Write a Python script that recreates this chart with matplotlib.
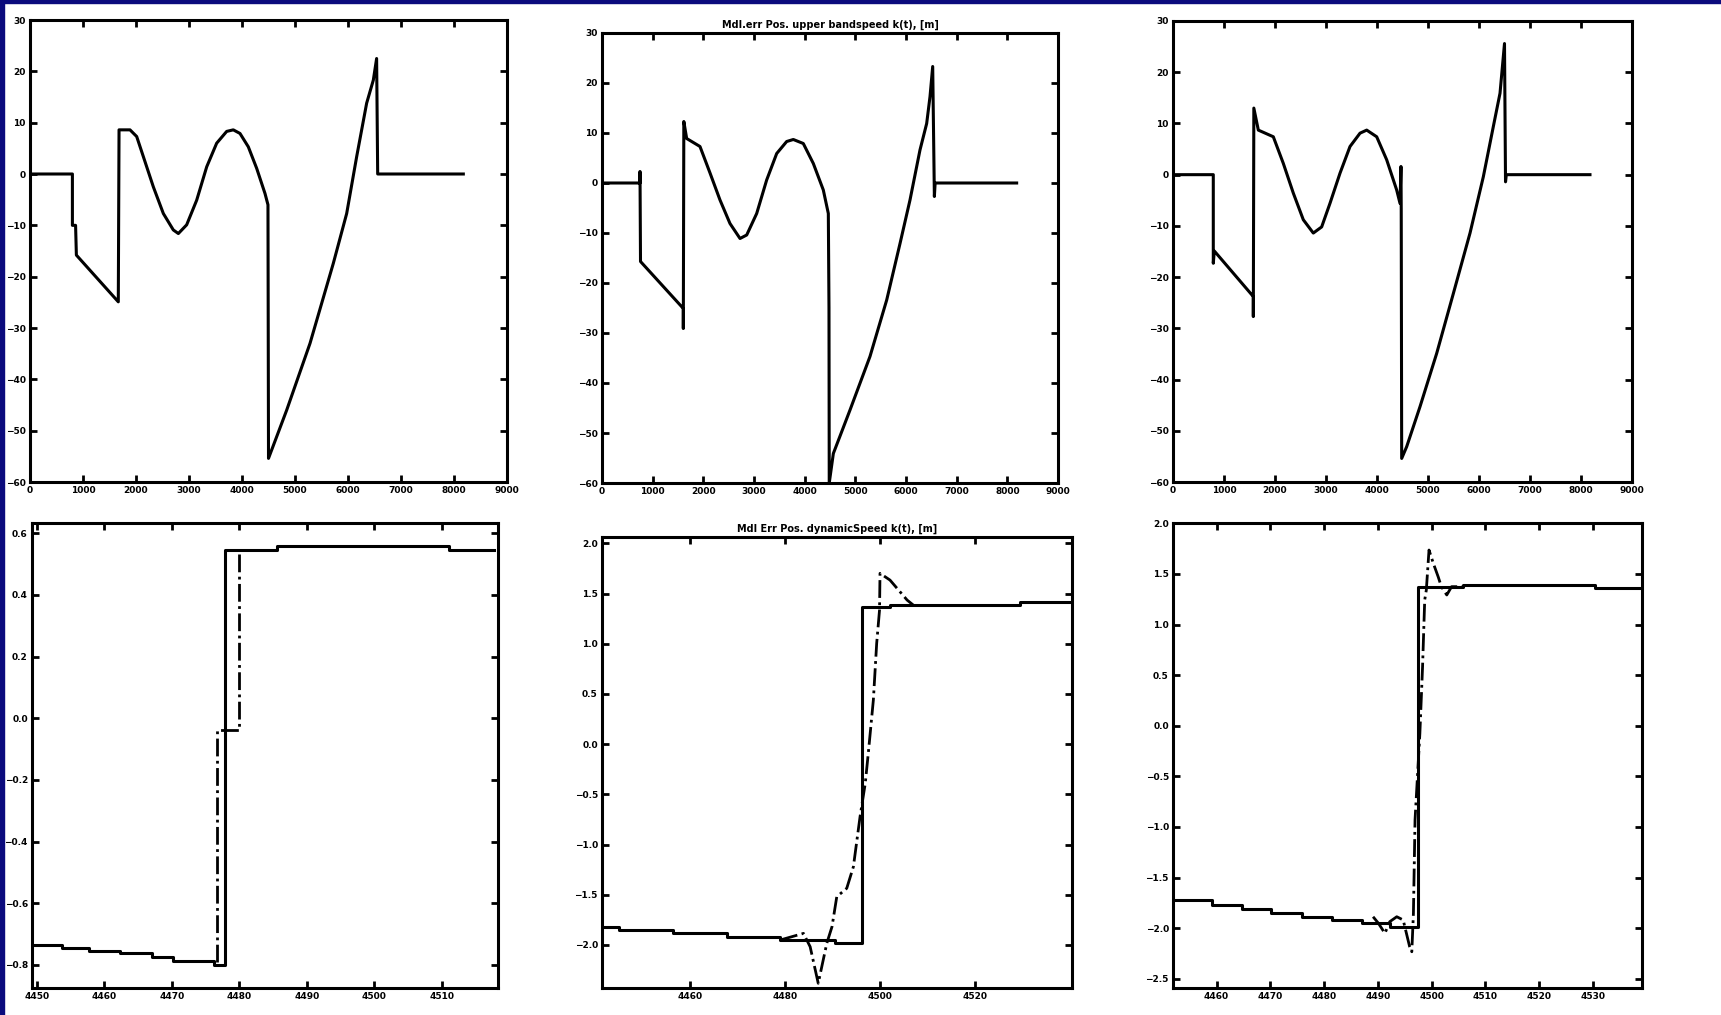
import matplotlib
matplotlib.use('Agg')
import matplotlib.pyplot as plt
from matplotlib.patches import Rectangle

# position error traces, upper row (x in samples)
tl_x = [0, 800, 800, 860, 875, 1666, 1680, 1887, 2013, 2138, 2327, 2516, 2704, 2799, 2956, 3145,
        3334, 3522, 3711, 3836, 3962, 4119, 4277, 4434, 4490, 4500, 4843, 5283, 5723, 5975, 6164,
        6352, 6478, 6540, 6560, 8176]
tl_y = [0, 0, -10, -10, -15.8, -24.9, 8.6, 8.6, 7.3, 3.4, -2.5, -7.7, -10.9, -11.6, -9.9, -5.1,
        1.4, 6.0, 8.3, 8.6, 7.9, 5.3, 1.1, -3.8, -6.0, -55.4, -46.0, -33.0, -17.4, -7.7, 3.4,
        13.8, 18.3, 22.5, 0, 0]

tm_x = [0, 750, 750, 760, 1605, 1605, 1615, 1671, 1934, 2132, 2329, 2526, 2724, 2856, 3053, 3250,
        3448, 3645, 3776, 3973, 4171, 4368, 4467, 4480, 4485, 4566, 4895, 5289, 5619, 5882, 6079,
        6276, 6408, 6474, 6527, 6560, 6575, 8184]
tm_y = [0, 0, 2.3, -15.7, -25.1, -29.1, 12.3, 8.9, 7.3, 2.0, -3.4, -8.1, -11.1, -10.4, -6.1, 0.6,
        5.9, 8.3, 8.7, 7.9, 3.9, -1.4, -6.1, -25, -60, -54.1, -45.4, -34.7, -23.4, -12.1, -3.4,
        6.6, 11.9, 17.3, 23.3, -2.7, 0, 0]

tr_x = [0, 790, 790, 810, 1575, 1575, 1585, 1673, 1967, 2163, 2359, 2555, 2751, 2915, 3078, 3275,
        3471, 3667, 3798, 3994, 4190, 4386, 4451, 4470, 4475, 4484, 4582, 4843, 5170, 5497, 5824,
        6085, 6281, 6412, 6500, 6520, 6535, 8176]
tr_y = [0, 0, -17.3, -14.9, -23.8, -27.7, 13.0, 8.7, 7.4, 2.2, -3.6, -8.8, -11.4, -10.2, -5.6, 0.3,
        5.5, 8.1, 8.7, 7.4, 2.9, -3.0, -5.6, 1.6, -6.7, -55.4, -53.1, -45.3, -34.9, -23.2, -11.4,
        -0.4, 9.4, 15.9, 25.6, -1.4, 0, 0]

# lower row: zoom around the switch, solid = stepped reference, dash-dot = response
bl_step_x = [4449.5, 4453.7, 4457.7, 4462.4, 4467.0, 4470.2, 4476.2, 4477.9, 4485.6, 4511.0, 4517.7]
bl_step_y = [-0.734, -0.745, -0.756, -0.763, -0.774, -0.788, -0.799, 0.546, 0.557, 0.544, 0.544]
bl_dd_x = [4476.7, 4476.7, 4479.9, 4479.9, 4485.6]
bl_dd_y = [-0.790, -0.038, -0.038, 0.546, 0.546]

bm_step_x = [4441.4, 4445.0, 4456.5, 4467.8, 4479.0, 4490.6, 4496.2, 4502.1, 4529.5, 4540.4]
bm_step_y = [-1.818, -1.852, -1.885, -1.918, -1.951, -1.984, 1.369, 1.385, 1.418, 1.418]
bm_dd_x = [4479.0, 4483.9, 4485.3, 4487.0, 4488.8, 4489.9, 4490.9, 4493.0, 4494.4, 4495.8,
           4496.9, 4497.6, 4498.6, 4499.3, 4499.9, 4500.0, 4502.1, 4505.7, 4507.0]
bm_dd_y = [-1.951, -1.885, -2.018, -2.382, -1.984, -1.818, -1.520, -1.436, -1.221, -0.723,
           -0.390, -0.059, 0.439, 1.004, 1.336, 1.701, 1.634, 1.435, 1.385]

br_step_x = [4452.0, 4459.1, 4464.7, 4470.2, 4475.8, 4481.4, 4487.0, 4492.2, 4497.5, 4505.9,
             4530.3, 4539.1]
br_step_y = [-1.722, -1.771, -1.814, -1.853, -1.887, -1.919, -1.952, -1.985, 1.368, 1.390,
             1.358, 1.358]
br_dd_x = [4489.1, 4490.1, 4491.3, 4492.2, 4493.5, 4494.7, 4495.3, 4495.9, 4496.3, 4496.6,
           4496.9, 4497.8, 4498.3, 4498.7, 4499.0, 4499.5, 4500.3, 4501.2, 4501.8, 4502.8,
           4503.7, 4506.2]
br_dd_y = [-1.887, -1.952, -2.051, -1.936, -1.887, -1.919, -2.051, -2.183, -2.233, -1.853,
           -0.931, -0.075, 0.583, 1.242, 1.341, 1.736, 1.605, 1.472, 1.374, 1.292, 1.374, 1.374]

top_xticks = [0, 1000, 2000, 3000, 4000, 5000, 6000, 7000, 8000, 9000]
top_yticks = [30, 20, 10, 0, -10, -20, -30, -40, -50, -60]
bl_xticks = [4450, 4460, 4470, 4480, 4490, 4500, 4510]
bl_yticks = [0.6, 0.4, 0.2, 0, -0.2, -0.4, -0.6, -0.8]
bm_xticks = [4460, 4480, 4500, 4520]
bm_yticks = [2, 1.5, 1, 0.5, 0, -0.5, -1, -1.5, -2]
br_xticks = [4460, 4470, 4480, 4490, 4500, 4510, 4520, 4530]
br_yticks = [2, 1.5, 1, 0.5, 0, -0.5, -1, -1.5, -2, -2.5]

title_top = 'Mdl.err Pos. upper bandspeed k(t), [m]'
title_bottom = 'Mdl Err Pos. dynamicSpeed k(t), [m]'

W, H = 1721, 1015
NAVY = '#0b0b7d'


def make_axes(fig, left, top, right, bottom):
	# pixel box -> figure fraction
	ax = fig.add_axes([left / W, 1 - bottom / H, (right - left) / W, (bottom - top) / H])
	ax.tick_params(direction='in', top=True, right=True, length=5, width=2,
	               labelsize=6.5, pad=3)
	for lbl in ax.get_xticklabels() + ax.get_yticklabels():
		lbl.set_fontweight('bold')
	for s in ax.spines.values():
		s.set_linewidth(2.2)
	return ax


def bold_ticks(ax):
	for lbl in ax.get_xticklabels() + ax.get_yticklabels():
		lbl.set_fontweight('bold')


def top_panel(fig, box, x, y, title=None):
	ax = make_axes(fig, *box)
	ax.plot(x, y, color='black', lw=2.2)
	ax.set_xlim(0, 9000)
	ax.set_ylim(-60, 30)
	ax.set_xticks(top_xticks)
	ax.set_yticks(top_yticks)
	if title:
		ax.set_title(title, fontsize=7, fontweight='bold', pad=4)
	bold_ticks(ax)
	return ax


def bottom_panel(fig, box, sx, sy, dx, dy, xlim, ylim, xt, yt, title=None):
	ax = make_axes(fig, *box)
	ax.step(sx, sy, where='post', color='black', lw=2.2)
	ax.plot(dx, dy, color='black', lw=2.0, ls='-.')
	ax.set_xlim(*xlim)
	ax.set_ylim(*ylim)
	ax.set_xticks(xt)
	ax.set_yticks(yt)
	if title:
		ax.set_title(title, fontsize=7, fontweight='bold', pad=4)
	bold_ticks(ax)
	return ax


def main():
	fig = plt.figure(figsize=(W / 100, H / 100), dpi=100, facecolor='white')
	fig.patches.append(Rectangle((0, 0), 4 / W, 1, transform=fig.transFigure,
	                             color=NAVY, zorder=0))
	fig.patches.append(Rectangle((0, 1 - 3 / H), 1, 3 / H, transform=fig.transFigure,
	                             color=NAVY, zorder=0))

	top_panel(fig, (30, 20, 507, 482), tl_x, tl_y)
	top_panel(fig, (602, 33, 1058, 483), tm_x, tm_y, title_top)
	top_panel(fig, (1173, 21, 1632, 482), tr_x, tr_y)

	bottom_panel(fig, (32, 523, 498, 988), bl_step_x, bl_step_y, bl_dd_x, bl_dd_y,
	             (4449.3, 4518.3), (-0.875, 0.633), bl_xticks, bl_yticks)
	bottom_panel(fig, (602, 537, 1072, 988), bm_step_x, bm_step_y, bm_dd_x, bm_dd_y,
	             (4441.5, 4540.4), (-2.429, 2.063), bm_xticks, bm_yticks, title_bottom)
	bottom_panel(fig, (1173, 523, 1642, 988), br_step_x, br_step_y, br_dd_x, br_dd_y,
	             (4451.9, 4539.1), (-2.591, 2.003), br_xticks, br_yticks)

	fig.savefig('out.png', dpi=100, facecolor=fig.get_facecolor())


if __name__ == '__main__':
	main()
